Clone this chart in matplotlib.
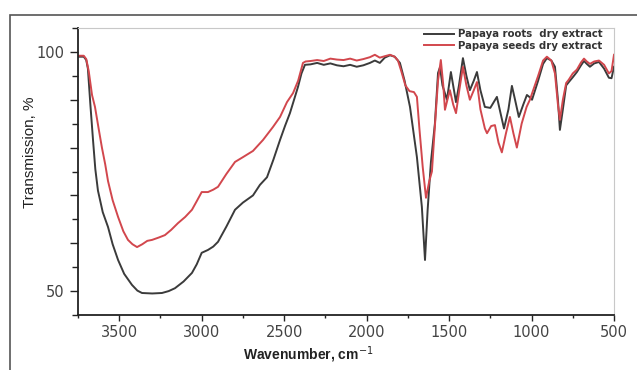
import matplotlib
matplotlib.use("Agg")
import matplotlib.pyplot as plt
from matplotlib.patches import Rectangle
from matplotlib.ticker import MultipleLocator, FuncFormatter

# FTIR spectra (wavenumber, cm-1 / transmission, %)
roots_wn = [3750, 3715, 3700, 3690, 3675, 3659, 3645, 3629, 3600, 3568, 3540, 3507, 3470,
            3423, 3390, 3362, 3300, 3241, 3200, 3162, 3110, 3059, 3030, 3000, 2962, 2930,
            2901, 2850, 2798, 2750, 2689, 2647, 2604, 2565, 2525, 2495, 2465, 2440, 2416,
            2395, 2374, 2340, 2300, 2260, 2220, 2180, 2140, 2100, 2060, 2020, 1980, 1950,
            1920, 1890, 1858, 1830, 1798, 1770, 1737, 1715, 1695, 1665, 1646, 1630, 1610,
            1586, 1567, 1555, 1540, 1513, 1489, 1458, 1440, 1416, 1395, 1374, 1350, 1331,
            1310, 1283, 1250, 1210, 1190, 1167, 1140, 1119, 1100, 1077, 1050, 1028, 1010,
            997, 960, 930, 907, 880, 858, 840, 828, 810, 790, 774, 750, 725, 700, 682, 665,
            646, 620, 591, 560, 531, 515, 500]
roots_t = [99.0, 99.0, 98.3, 96.5, 89.0, 81.6, 75.5, 71.0, 66.5, 63.4, 59.8, 56.5, 53.6,
           51.3, 50.1, 49.6, 49.5, 49.6, 50.0, 50.6, 52.0, 53.8, 55.6, 58.0, 58.6, 59.3,
           60.3, 63.5, 67.0, 68.5, 70.0, 72.2, 73.8, 77.5, 81.6, 84.5, 87.2, 90.0, 92.7,
           95.5, 97.3, 97.4, 97.7, 97.3, 97.6, 97.2, 97.0, 97.3, 96.9, 97.2, 97.7, 98.2,
           97.7, 98.8, 99.3, 99.0, 97.7, 94.0, 88.5, 83.0, 78.0, 67.6, 56.5, 67.0, 77.0,
           85.0, 95.6, 96.8, 93.0, 90.0, 95.8, 89.5, 93.0, 98.7, 95.0, 92.0, 94.0, 95.8,
           92.0, 88.5, 88.3, 90.6, 87.5, 84.0, 88.0, 92.9, 90.0, 86.4, 89.0, 91.0, 90.5,
           90.0, 94.0, 97.5, 98.7, 98.2, 96.9, 90.0, 83.7, 88.0, 93.0, 93.7, 94.7, 95.8,
           97.2, 98.1, 97.5, 96.9, 97.6, 97.9, 96.5, 94.6, 94.5, 96.9]

seeds_wn = [3750, 3715, 3700, 3685, 3665, 3647, 3625, 3605, 3585, 3568, 3540, 3507, 3475,
            3447, 3420, 3392, 3360, 3330, 3301, 3260, 3223, 3185, 3144, 3100, 3059, 3030,
            3000, 2962, 2930, 2901, 2850, 2798, 2750, 2689, 2628, 2568, 2525, 2483, 2446,
            2415, 2386, 2370, 2340, 2300, 2260, 2220, 2180, 2140, 2100, 2060, 2020, 1980,
            1950, 1920, 1890, 1858, 1830, 1810, 1790, 1765, 1740, 1713, 1695, 1680, 1660,
            1640, 1620, 1604, 1585, 1567, 1550, 1535, 1525, 1510, 1495, 1475, 1458, 1438,
            1416, 1395, 1374, 1350, 1331, 1310, 1283, 1270, 1245, 1222, 1200, 1180, 1155,
            1131, 1110, 1089, 1060, 1030, 1010, 960, 930, 907, 880, 858, 840, 828, 810,
            790, 774, 750, 725, 700, 682, 665, 646, 620, 591, 560, 531, 515, 500]
seeds_t = [99.2, 99.2, 98.5, 96.0, 91.0, 88.5, 84.0, 80.0, 76.5, 73.0, 69.0, 65.5, 62.5,
           60.7, 59.8, 59.2, 59.8, 60.5, 60.7, 61.2, 61.7, 62.8, 64.2, 65.5, 67.0, 68.8,
           70.7, 70.7, 71.2, 71.8, 74.5, 77.0, 78.0, 79.3, 81.6, 84.3, 86.4, 89.5, 91.4,
           94.0, 97.7, 98.0, 98.1, 98.3, 98.1, 98.6, 98.4, 98.3, 98.6, 98.2, 98.5, 98.9,
           99.4, 98.8, 99.1, 99.4, 99.0, 98.2, 96.0, 93.0, 91.8, 91.6, 90.6, 84.0, 76.0,
           69.5, 73.0, 75.0, 85.0, 94.0, 98.3, 93.0, 87.9, 90.0, 92.0, 89.0, 87.2, 92.0,
           96.9, 93.0, 90.0, 92.0, 93.7, 88.0, 84.0, 83.0, 84.5, 84.7, 81.0, 79.0, 83.0,
           86.4, 83.0, 80.0, 85.0, 88.5, 90.0, 95.0, 98.2, 99.0, 98.2, 95.5, 89.0, 85.8,
           90.0, 93.5, 94.2, 95.5, 96.3, 97.8, 98.6, 98.0, 97.5, 98.0, 98.2, 97.3, 95.5,
           96.0, 99.4]

W, H = 637, 370
fig = plt.figure(figsize=(W / 100, H / 100), dpi=100)
ax = fig.add_axes([78 / W, 55 / H, 536 / W, 287 / H])

# outer frame of the screenshot
fig.patches.append(Rectangle((10 / W, -0.1), 1.0, 1 - 15 / H + 0.1, transform=fig.transFigure,
                             fill=False, edgecolor="#555555", linewidth=1.2))

ax.plot(roots_wn, roots_t, color="#3b3b3b", lw=1.4, label="Papaya roots  dry extract")
ax.plot(seeds_wn, seeds_t, color="#d2474d", lw=1.4, label="Papaya seeds dry extract")

ax.set_xlim(3750, 500)
ax.set_ylim(45, 105)
ax.xaxis.set_major_locator(MultipleLocator(500))
ax.xaxis.set_minor_locator(MultipleLocator(250))
ax.yaxis.set_major_locator(MultipleLocator(10))
ax.yaxis.set_minor_locator(MultipleLocator(5))
ax.yaxis.set_major_formatter(FuncFormatter(lambda v, p: "%d" % v if v in (50, 100) else ""))
ax.xaxis.set_major_formatter(FuncFormatter(lambda v, p: "%d" % v if 500 <= v <= 3500 else ""))

ax.tick_params(axis="both", which="both", direction="out", colors="#222222",
               labelcolor="#444444", labelsize=10.5, width=1.0)
ax.tick_params(axis="x", which="major", length=4)
ax.tick_params(axis="x", which="minor", length=2.5)
ax.tick_params(axis="y", which="major", length=6)
ax.tick_params(axis="y", which="minor", length=4)
for lab in ax.get_xticklabels() + ax.get_yticklabels():
    lab.set_family("DejaVu Sans")

ax.spines["left"].set_color("#222222")
ax.spines["bottom"].set_color("#222222")
ax.spines["left"].set_linewidth(1.3)
ax.spines["bottom"].set_linewidth(1.3)
ax.spines["top"].set_color("#c8c8c8")
ax.spines["right"].set_color("#c8c8c8")

fig.text(308 / W, 1 - 355 / H, "Wavenumber, cm$^{-1}$", ha="center", va="center",
         family="Liberation Sans", weight="bold", fontsize=10, color="#222222")
fig.text(30 / W, 1 - 152 / H, "Transmission, %", ha="center", va="center", rotation=90,
         family="Liberation Sans", fontsize=11, color="#222222")

leg = ax.legend(loc="upper right", bbox_to_anchor=(0.978, 0.995), frameon=False,
                prop={"family": "DejaVu Sans", "weight": "bold", "size": 7.3},
                handlelength=2.9, handletextpad=0.4, labelspacing=0.15, borderpad=0,
                borderaxespad=0)
for t in leg.get_texts():
    t.set_color("#333333")

fig.savefig("out.png", dpi=100)
